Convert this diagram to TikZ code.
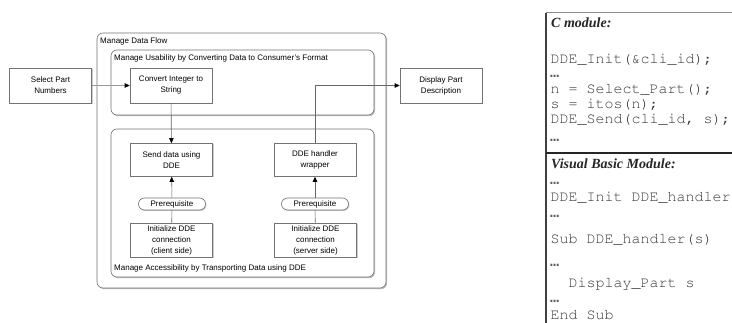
\documentclass[tikz,border=0pt]{standalone}
\usepackage{fontspec}
\setmainfont{Liberation Sans}
\newfontfamily\dotsfont{Liberation Mono}
\newfontfamily\headfont{Liberation Serif}
\newcommand\courierfont{\usefont{T1}{pcr}{m}{n}}
\usetikzlibrary{arrows.meta,shadows}

\tikzset{
  linegray/.style={draw=black!55, line width=0.6pt},
  group/.style={linegray, rounded corners=6pt, fill=white, inner sep=0pt,
    drop shadow={shadow xshift=1.2pt, shadow yshift=-1.2pt, fill=black!25, opacity=1}},
  proc/.style={linegray, fill=white, align=center, inner sep=1pt,
    font=\fontsize{8}{11}\selectfont, minimum width=82pt, minimum height=34pt,
    drop shadow={shadow xshift=1pt, shadow yshift=-1pt, fill=black!20, opacity=1}},
  pill/.style={linegray, fill=white, rounded corners=6pt, inner sep=0pt,
    font=\fontsize{8}{9}\selectfont, minimum width=67pt, minimum height=12pt,
    drop shadow={shadow xshift=1pt, shadow yshift=-1pt, fill=black!20, opacity=1}},
  grouplabel/.style={anchor=west, inner sep=0pt, font=\fontsize{8}{9}\selectfont},
  flow/.style={draw=black!60, line width=0.6pt,
    -{Triangle[length=5pt,width=4.5pt,color=black]}},
  plain/.style={draw=black!60, line width=0.6pt},
  code/.style={anchor=mid west, inner sep=0pt, text=black!78,
    font=\courierfont\fontsize{15}{18}\selectfont},
  dots/.style={anchor=base west, inner sep=0pt, text=black!65,
    text height=2pt, text depth=0pt,
    font=\dotsfont\bfseries\fontsize{15}{16}\selectfont},
  head/.style={anchor=mid west, inner sep=0pt, text=black!85,
    font=\headfont\bfseries\itshape\fontsize{14}{16}\selectfont},
}

\begin{document}
\begin{tikzpicture}[x=1pt,y=-1pt]
\useasboundingbox (0,0) rectangle (732,323);
\fill[white] (0,0) rectangle (732,323);

% ---- nested activity groups ----
\node[group, minimum width=289pt, minimum height=255pt] (flow) at (241.5,160.5) {};
\node[grouplabel] (flowlbl) at (100,41) {Manage Data Flow};
\node[group, minimum width=263pt, minimum height=65pt] (usab) at (242.5,82.5) {};
\node[grouplabel] (usablbl) at (114,58) {Manage Usability by Converting Data to Consumer's Format};
\node[group, minimum width=263pt, minimum height=148pt] (access) at (242.5,203) {};
\node[grouplabel] (accesslbl) at (114,268) {Manage Accessibility by Transporting Data using DDE};

% ---- activities ----
\node[proc, minimum height=35pt] (select) at (50.5,85.5) {Select Part\\Numbers};
\node[proc, minimum height=35pt] (convert) at (171,85.5) {Convert Integer to\\String};
\node[proc, minimum height=35pt] (display) at (441,85.5) {Display Part\\Description};
\node[proc, minimum height=33pt] (send) at (171.5,160) {Send data using\\DDE};
\node[proc, minimum height=33pt] (handler) at (315,160) {DDE handler\\wrapper};
\node[pill] (preL) at (172,204) {Prerequisite};
\node[pill] (preR) at (315,204) {Prerequisite};
\node[proc] (initC) at (171.5,240) {Initialize DDE\\connection\\(client side)};
\node[proc] (initS) at (315.5,240) {Initialize DDE\\connection\\(server side)};

% ---- connectors ----
\draw[flow, draw=black!40] (select) -- (convert);
\draw[flow] (convert) -- (send);
\draw[flow] (preL) -- (send);
\draw[plain] (initC) -- (preL);
\draw[flow] (handler.north) |- (display.west);
\draw[flow] (preR) -- (handler);
\draw[plain] (initS) -- (preR);

% ---- source listing panel ----
\coordinate (pTL) at (546,12.7);
\coordinate (pBL) at (546,330);
\coordinate (pTR) at (740,12.7);
\coordinate (sepL) at (546,153);
\coordinate (sepR) at (740,153);
\draw[black!45, line width=0.8pt] (pTL) -- (pTR);
\draw[black!75, line width=1.8pt] (pTL) -- (pBL);
\draw[black!85, line width=2pt] (sepL) -- (sepR);

\node[head] (chead) at (551,25) {C module:};
\node[code] (c1) at (550.5,61) {DDE\_Init(\&cli\_id);};
\node[dots] (c2) at (550,78) {…};
\node[code] (c3) at (550.5,91) {n = Select\_Part();};
\node[code] (c4) at (550.5,106) {s = itos(n);};
\node[code] (c5) at (550.5,121) {DDE\_Send(cli\_id, s);};
\node[dots] (c6) at (550,142) {…};

\node[head] (vbhead) at (551,166) {Visual Basic Module:};
\node[dots] (v1) at (550,185) {…};
\node[code] (v2) at (550.5,199) {DDE\_Init DDE\_handler};
\node[dots] (v3) at (550,218) {…};
\node[code] (v4) at (550.5,241) {Sub DDE\_handler(s)};
\node[dots] (v5) at (550,267) {…};
\node[code] (v6) at (568.5,285) {Display\_Part s};
\node[dots] (v7) at (550,303) {…};
\node[code] (v8) at (550.5,317) {End Sub};
\end{tikzpicture}
\end{document}
